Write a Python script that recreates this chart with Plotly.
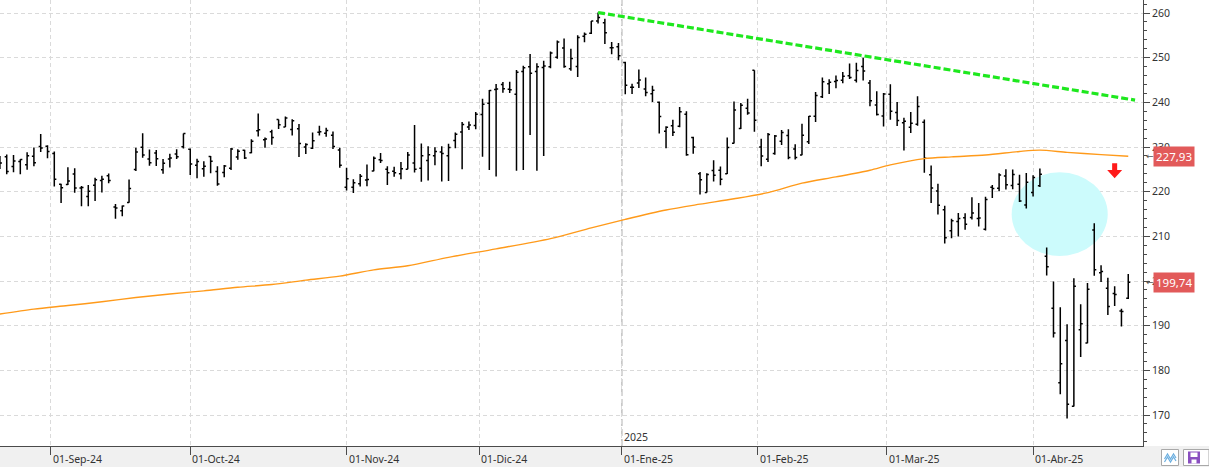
import pandas as pd
import plotly.graph_objects as go

# ---------------- data ----------------
holidays = ["2024-09-02", "2024-11-28", "2024-12-25", "2025-01-01",
            "2025-01-09", "2025-01-20", "2025-02-17", "2025-04-18"]
dates = pd.bdate_range("2024-08-21", "2025-04-22", freq="C", holidays=holidays)
ext_dates = pd.bdate_range("2024-08-21", "2025-04-30", freq="C", holidays=holidays)

opens = [
    226.52, 227.79, 225.66, 226.76, 226.00, 227.92, 230.10, 230.19,
    228.55, 221.66, 221.63, 223.95, 220.82, 218.92, 221.46, 222.50, 223.58, 216.54,
    215.75, 217.55, 224.99, 229.97, 227.34, 228.65, 224.93, 227.30, 228.46, 230.04,
    229.52, 225.89, 225.14, 227.90, 224.50, 224.30, 225.23, 227.78, 229.30, 228.70,
    233.61, 231.60, 233.43, 236.18, 234.45, 233.89, 234.08, 229.98, 229.74, 233.32,
    233.10, 232.61, 229.34,
    220.97, 220.99, 221.80, 222.61, 224.63, 227.17, 225.00, 224.55, 224.01, 225.02,
    226.40, 225.25, 226.98, 228.06, 228.88, 228.06, 231.46, 233.33, 234.47, 234.81,
    237.27, 239.81, 242.87, 243.99, 242.91, 241.83, 246.89, 247.96, 246.89, 247.82,
    247.99, 250.08, 252.16, 247.50, 248.04, 254.77, 255.49, 258.19, 257.83, 252.23,
    252.44,
    248.93, 243.36, 244.31, 242.98, 241.92, 240.01, 233.53, 234.75, 234.64, 237.35,
    232.12, 224.00, 219.79, 224.74, 224.78, 224.02, 230.85, 234.12, 238.67, 247.19,
    229.99, 227.25, 228.53, 231.29, 232.60, 229.57, 228.20, 231.20, 236.91, 241.25,
    244.15, 244.66, 244.94, 245.95, 244.93, 248.00, 244.33, 239.41, 236.95,
    241.79, 237.71, 235.42, 234.44, 235.11, 235.54, 223.81, 220.14, 215.95, 211.25,
    213.31, 214.16, 214.22, 213.99, 211.56, 221.00, 220.77, 223.51, 221.39, 221.67,
    217.01,
    219.81, 221.32, 205.54, 193.89, 177.20, 186.70, 171.95, 189.07, 186.10, 211.44,
    201.86, 198.36, 197.20, 193.27, 196.12,
]
highs = [
    227.98, 228.34, 228.22, 227.28, 228.85, 229.86, 232.92, 230.40,
    229.00, 221.78, 225.48, 225.24, 221.27, 221.48, 223.09, 223.55, 224.04, 217.22,
    216.90, 222.71, 229.82, 233.09, 229.45, 229.35, 227.29, 228.50, 229.52, 233.00,
    229.65, 227.37, 226.81, 228.00, 225.69, 225.98, 229.75, 229.50, 229.41, 231.73,
    237.49, 232.12, 233.85, 236.18, 236.85, 236.22, 235.14, 230.82, 233.22, 234.73,
    234.33, 233.47, 229.83,
    225.35, 222.79, 223.95, 226.07, 227.88, 228.66, 225.70, 225.59, 226.65, 228.87,
    234.90, 230.80, 230.16, 229.93, 230.16, 230.72, 233.25, 235.57, 235.69, 237.81,
    240.79, 242.76, 244.11, 244.54, 244.63, 247.24, 248.21, 250.80, 248.74, 249.29,
    251.38, 253.83, 254.28, 252.00, 255.00, 255.65, 258.21, 260.10, 258.70, 253.50,
    253.28,
    249.10, 244.18, 247.33, 245.55, 243.71, 240.16, 234.67, 236.12, 238.96, 238.01,
    232.29, 224.42, 224.12, 227.03, 225.63, 232.15, 240.19, 239.86, 240.79, 247.19,
    231.83, 233.13, 232.67, 233.80, 234.00, 230.59, 235.23, 236.96, 242.34, 245.55,
    245.18, 246.01, 246.78, 248.69, 248.86, 250.00, 244.98, 242.46, 242.09,
    244.03, 240.07, 236.55, 237.86, 241.37, 236.16, 225.84, 221.75, 216.84, 213.95,
    215.22, 215.15, 218.76, 217.49, 218.84, 221.48, 224.10, 225.02, 224.99, 223.81,
    224.20,
    223.68, 225.19, 207.49, 199.88, 194.15, 190.34, 200.61, 194.78, 199.54, 212.94,
    203.51, 200.70, 198.83, 193.80, 201.59,
]
lows = [
    225.05, 223.90, 224.33, 223.89, 224.89, 225.68, 228.88, 227.48,
    221.17, 217.48, 221.52, 219.77, 216.71, 216.73, 217.89, 219.82, 221.91, 213.92,
    214.50, 217.54, 224.63, 227.62, 225.81, 225.73, 224.02, 225.41, 227.30, 229.65,
    223.74, 223.02, 223.32, 224.13, 221.33, 223.25, 224.83, 227.17, 227.34, 228.60,
    232.37, 229.84, 230.52, 234.01, 234.45, 232.60, 227.76, 228.41, 229.57, 232.55,
    232.32, 229.55, 225.37,
    220.27, 219.71, 221.14, 221.19, 224.57, 226.41, 221.50, 223.36, 222.76, 225.00,
    224.27, 222.20, 222.50, 225.89, 222.30, 222.40, 229.74, 225.00, 233.81, 233.97,
    227.80, 224.85, 223.40, 242.13, 242.08, 224.70, 224.85, 232.70, 224.70, 228.00,
    247.65, 249.78, 247.74, 247.09, 245.69, 253.45, 255.29, 257.63, 253.06, 250.75,
    249.43,
    241.82, 241.89, 243.20, 241.35, 240.05, 233.00, 229.72, 232.47, 234.43, 228.03,
    228.48, 219.38, 219.79, 222.30, 221.41, 223.98, 230.81, 234.01, 237.21, 233.44,
    225.70, 226.65, 228.27, 230.43, 227.26, 227.20, 228.13, 230.68, 235.57, 240.99,
    241.84, 243.16, 244.29, 245.22, 244.42, 244.91, 239.13, 237.06, 234.60,
    236.11, 234.68, 229.23, 233.16, 234.76, 224.22, 217.45, 214.91, 208.42, 209.58,
    209.97, 211.49, 213.75, 212.22, 211.28, 218.58, 220.08, 220.47, 220.56, 217.68,
    216.23,
    218.90, 221.02, 201.25, 187.34, 174.62, 169.21, 171.89, 183.00, 186.06, 201.16,
    199.80, 192.37, 194.42, 189.81, 195.97,
]
closes = [
    226.40, 224.53, 226.84, 227.18, 228.03, 226.49, 229.79, 229.00,
    222.77, 220.85, 222.38, 220.82, 220.91, 220.11, 222.66, 222.77, 222.50, 216.32,
    216.79, 220.69, 228.87, 228.20, 226.47, 227.37, 226.37, 227.52, 227.79, 233.00,
    226.21, 226.78, 225.67, 226.80, 221.69, 225.77, 229.54, 229.04, 227.55, 231.30,
    233.85, 231.78, 232.15, 235.00, 236.48, 235.86, 230.76, 230.57, 231.41, 233.40,
    233.67, 230.10, 225.91,
    222.91, 222.01, 223.45, 222.72, 227.48, 226.96, 224.23, 224.23, 225.12, 228.22,
    225.00, 228.02, 228.28, 229.00, 228.52, 229.87, 232.87, 235.06, 234.93, 237.33,
    239.59, 242.65, 243.01, 243.04, 242.84, 246.75, 247.77, 246.49, 247.96, 248.13,
    251.04, 253.48, 248.05, 249.79, 254.49, 255.27, 258.20, 259.02, 255.59, 252.20,
    250.42,
    243.85, 243.36, 245.00, 242.21, 242.70, 236.85, 234.40, 233.28, 237.87, 228.26,
    229.98, 222.64, 223.83, 223.66, 222.78, 229.86, 238.26, 239.36, 237.59, 236.00,
    228.01, 232.80, 232.47, 233.22, 227.63, 227.65, 232.62, 236.87, 241.53, 244.60,
    244.47, 244.87, 245.83, 245.55, 247.10, 247.04, 240.36, 237.30, 241.84,
    238.03, 235.93, 235.74, 235.33, 239.07, 227.48, 220.84, 216.98, 209.68, 213.49,
    214.00, 212.69, 215.24, 214.10, 218.27, 220.73, 223.75, 221.53, 223.85, 217.90,
    222.13,
    223.19, 223.89, 203.19, 188.38, 181.46, 172.42, 198.85, 190.42, 198.15, 202.52,
    202.14, 194.27, 196.98, 193.16, 199.74,
]

# 200-session moving average, read at sample dates
ma_dates = ["2024-08-21", "2024-08-28", "2024-09-05", "2024-09-12", "2024-09-19",
            "2024-09-26", "2024-10-03", "2024-10-10", "2024-10-17", "2024-10-24",
            "2024-10-31", "2024-11-07", "2024-11-14", "2024-11-22", "2024-12-04",
            "2024-12-16", "2024-12-24", "2025-01-02", "2025-01-13", "2025-01-21",
            "2025-01-28", "2025-02-04", "2025-02-11", "2025-02-19", "2025-02-26",
            "2025-03-03", "2025-03-10", "2025-03-14", "2025-03-21", "2025-03-28",
            "2025-04-02", "2025-04-08", "2025-04-15", "2025-04-22"]
ma_values = [192.6, 193.7, 194.5, 195.35, 196.3, 197.1, 197.8, 198.6, 199.2, 200.2,
             201.1, 202.5, 203.4, 205.3, 207.2, 209.5, 211.9, 213.8, 215.9, 217.2,
             218.4, 219.8, 221.9, 223.3, 224.8, 226.0, 227.4, 227.8, 228.2, 229.0,
             229.3, 228.8, 228.3, 227.93]

# resistance trend line
trend_dates = ["2024-12-26", "2025-04-23"]
trend_values = [260.10, 240.5]

month_starts = ["2024-09-01", "2024-10-01", "2024-11-01", "2024-12-01",
                "2025-01-01", "2025-02-01", "2025-03-01", "2025-04-01"]
tick_labels = ["01-Sep-24", "01-Oct-24", "01-Nov-24", "01-Dic-24",
               "01-Ene-25", "01-Feb-25", "01-Mar-25", "01-Abr-25"]
year_label = "2025"

last_close = 199.74
last_ma = 227.93

assert len(dates) == len(opens) == len(highs) == len(lows) == len(closes)

# ---------------- helpers ----------------
def idx(d):
    return int(ext_dates.get_loc(pd.Timestamp(d)))

xs = list(range(len(dates)))
ma_x = [idx(d) for d in ma_dates]
trend_x = [idx(d) for d in trend_dates]

tickvals = []
for m in month_starts:
    ts = pd.Timestamp(m)
    first = ext_dates[ext_dates >= ts][0]
    i = idx(first)
    tickvals.append(i if first == ts else i - 0.5)
year_tick = tickvals[4]

FONT = "Segoe UI, Noto Sans, Roboto, sans-serif"
AX = "#4a4a4a"
GRID = "#dadada"

fig = go.Figure()

fig.add_trace(go.Scatter(x=ma_x, y=ma_values, mode="lines",
                         line=dict(color="#ff9a1a", width=1.4, shape="spline",
                                   smoothing=0.8),
                         hoverinfo="skip", showlegend=False))

fig.add_trace(go.Ohlc(x=xs, open=opens, high=highs, low=lows, close=closes,
                      increasing=dict(line=dict(color="#000000", width=1.5)),
                      decreasing=dict(line=dict(color="#000000", width=1.5)),
                      tickwidth=0.3, hoverinfo="skip", showlegend=False))

fig.add_trace(go.Scatter(x=trend_x, y=trend_values, mode="lines",
                         line=dict(color="#1ee81e", width=3.2, dash="7px,3px"),
                         hoverinfo="skip", showlegend=False))

W, H = 1209, 467
PL, PR, PT, PB = 0, 66, 0, 21
pw, ph = W - PL - PR, H - PT - PB

def px_x(p):
    return p / pw

def px_y(p):
    return (ph - p) / ph

shapes = []
# bottom strip
shapes.append(dict(type="rect", xref="paper", yref="paper", x0=0, x1=px_x(W),
                   y0=px_y(H), y1=0, fillcolor="#f0f0f0", line=dict(width=0),
                   layer="below"))
# year separator
shapes.append(dict(type="line", xref="x", yref="paper", x0=year_tick, x1=year_tick,
                   y0=0, y1=1, line=dict(color="#c4c4c4", width=1.6, dash="7px,3px"),
                   layer="between"))
# light blue ellipse
shapes.append(dict(type="circle", xref="x", yref="y", x0=148.85, x1=162.98,
                   y0=205.6, y1=224.34, fillcolor="#ccfbfc", line=dict(width=0),
                   layer="between"))
# red down arrow
cx = 164.0
sw, hw = 0.37, 1.1
path = (f"M {cx-sw},226.35 L {cx+sw},226.35 L {cx+sw},224.85 L {cx+hw},224.85 "
        f"L {cx},222.99 L {cx-hw},224.85 L {cx-sw},224.85 Z")
shapes.append(dict(type="path", xref="x", yref="y", path=path,
                   fillcolor="#ff1a1a", line=dict(width=0), layer="above"))
# bottom-right icons
shapes.append(dict(type="rect", xref="paper", yref="paper",
                   x0=px_x(1161.5), x1=px_x(1178.5), y0=px_y(465.5), y1=px_y(449.5),
                   fillcolor="#ffffff", line=dict(color="#a8a8a8", width=1)))
zig = [(1164.5, 459), (1167.5, 454), (1170.5, 459), (1173.5, 454), (1176, 458)]
for off in (0, 3):
    p = "M " + " L ".join(f"{px_x(a)},{px_y(b + off)}" for a, b in zig)
    shapes.append(dict(type="path", xref="paper", yref="paper", path=p,
                       line=dict(color="#6aaee0", width=1.2)))
shapes.append(dict(type="rect", xref="paper", yref="paper",
                   x0=px_x(1183.5), x1=px_x(1209), y0=px_y(465.5), y1=px_y(449.5),
                   fillcolor="#ffffff", line=dict(color="#a8a8a8", width=1)))
shapes.append(dict(type="rect", xref="paper", yref="paper",
                   x0=px_x(1188), x1=px_x(1200), y0=px_y(463.5), y1=px_y(451.5),
                   fillcolor="#8a4fc0", line=dict(width=0)))
shapes.append(dict(type="rect", xref="paper", yref="paper",
                   x0=px_x(1190.5), x1=px_x(1197.5), y0=px_y(457), y1=px_y(452.5),
                   fillcolor="#ffffff", line=dict(width=0)))
shapes.append(dict(type="rect", xref="paper", yref="paper",
                   x0=px_x(1191.5), x1=px_x(1196.5), y0=px_y(463.5), y1=px_y(459.5),
                   fillcolor="#ffffff", line=dict(width=0)))

annotations = []
for tv, lab in zip(tickvals, tick_labels):
    annotations.append(dict(x=tv, xref="x", y=0, yref="paper", text=lab,
                            showarrow=False, xanchor="left", yanchor="top",
                            xshift=0, yshift=-4,
                            font=dict(family=FONT, size=10.5, color="#333333")))
annotations.append(dict(x=year_tick, xref="x", y=0, yref="paper", text=year_label,
                        showarrow=False, xanchor="left", yanchor="bottom",
                        xshift=0, yshift=0,
                        font=dict(family=FONT, size=10.5, color="#333333")))
for val in (last_ma, last_close):
    annotations.append(dict(x=px_x(1152.5), xref="paper", y=val, yref="y",
                            text=f"{val:.2f}".replace(".", ","), showarrow=False,
                            xanchor="left", yanchor="middle", bgcolor="#e25a5a",
                            borderpad=2,
                            font=dict(family=FONT, size=11.5, color="#ffffff")))
    annotations.append(dict(x=px_x(1143.5), xref="paper", y=val, yref="y",
                            text="←", showarrow=False, xanchor="left",
                            yanchor="middle",
                            font=dict(family="DejaVu Sans", size=9, color="#555555")))

fig.update_layout(
    width=W, height=H,
    margin=dict(l=PL, r=PR, t=PT, b=PB, pad=0),
    paper_bgcolor="#ffffff", plot_bgcolor="#ffffff",
    showlegend=False,
    shapes=shapes, annotations=annotations,
    xaxis=dict(range=[0.012, 168.17], rangeslider=dict(visible=False),
               tickmode="array", tickvals=tickvals, showticklabels=False,
               ticks="outside", ticklen=8, tickcolor=AX, tickwidth=1,
               showgrid=True, gridcolor=GRID, griddash="4px,3px", gridwidth=1,
               showline=True, linecolor=AX, linewidth=1, zeroline=False,
               fixedrange=True),
    yaxis=dict(side="right", range=[163.06, 262.91], tick0=0, dtick=10,
               ticks="outside", ticklen=6, tickcolor=AX, tickwidth=1,
               showgrid=True, gridcolor=GRID, griddash="4px,3px", gridwidth=1,
               showline=True, linecolor=AX, linewidth=1, zeroline=False,
               tickfont=dict(family=FONT, size=10.5, color="#333333"),
               minor=dict(dtick=2, ticks="outside", ticklen=3, tickcolor=AX,
                          showgrid=False),
               fixedrange=True),
)

fig.write_html("out.html", include_plotlyjs=True, full_html=True,
               config={"displayModeBar": False, "staticPlot": True},
               post_script="document.body.style.margin='0';")
